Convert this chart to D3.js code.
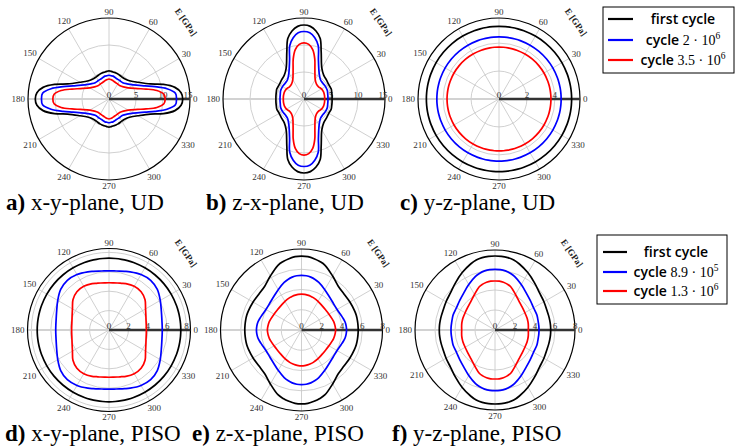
<!DOCTYPE html>
<html>
<head>
<meta charset="utf-8">
<script src="https://cdn.jsdelivr.net/npm/d3@7/dist/d3.min.js"></script>
<style>
body { margin: 0; background: #fff; }
text { font-family: "Liberation Serif", serif; }
</style>
</head>
<body>
<div id="chart"></div>
<script>
// E modulus [GPa] for one quadrant (0..90 deg);
// every plot is mirror-symmetric about both axes, so the rest is reflected
var angles = [0, 5, 10, 15, 20, 30, 40, 50, 60, 70, 75, 80, 85, 90];

// a) x-y-plane, UD
var aFirst = [13.65, 13.4, 12.4, 10.45, 8.15, 6.2, 5.2, 4.78, 4.73, 4.9, 4.98, 5.04, 5.13, 5.2];
var aMid   = [12.5, 12.35, 10.9, 8.8, 7.1, 5.24, 4.37, 3.95, 3.94, 4.04, 4.16, 4.3, 4.33, 4.4];
var aLast  = [10.4, 10.2, 9.0, 7.1, 5.63, 4.1, 3.48, 3.2, 3.2, 3.3, 3.4, 3.52, 3.63, 3.7];
// b) z-x-plane, UD
var bFirst = [5.2, 5.22, 5.25, 5.3, 5.37, 5.3, 5.45, 5.7, 6.6, 9.3, 11.6, 12.8, 13.5, 13.7];
var bMid   = [4.44, 4.45, 4.47, 4.53, 4.6, 4.6, 4.55, 4.72, 5.6, 7.8, 10.2, 11.5, 12.3, 12.5];
var bLast  = [3.83, 3.84, 3.85, 3.85, 3.85, 3.74, 3.52, 3.6, 4.15, 5.9, 7.7, 9.3, 10.15, 10.4];
// c) y-z-plane, UD
var cFirst = [5.2, 5.2, 5.2, 5.2, 5.2, 5.2, 5.2, 5.2, 5.2, 5.2, 5.2, 5.2, 5.2, 5.2];
var cMid   = [4.45, 4.45, 4.45, 4.45, 4.45, 4.45, 4.45, 4.45, 4.45, 4.45, 4.45, 4.45, 4.45, 4.45];
var cLast  = [3.72, 3.72, 3.72, 3.72, 3.72, 3.72, 3.72, 3.72, 3.72, 3.72, 3.72, 3.72, 3.72, 3.72];
// d) x-y-plane, PISO
var dFirst = [7.4, 7.4, 7.4, 7.4, 7.4, 7.4, 7.4, 7.4, 7.4, 7.4, 7.4, 7.4, 7.4, 7.4];
var dMid   = [5.49, 5.5, 5.54, 5.62, 5.74, 6.1, 6.5, 6.68, 6.6, 6.38, 6.26, 6.17, 6.11, 6.1];
var dLast  = [3.85, 3.86, 3.89, 3.95, 4.05, 4.35, 4.85, 5.15, 5.2, 5.08, 4.98, 4.92, 4.88, 4.87];
// e) z-x-plane, PISO
var eFirst = [5.6, 5.6, 5.6, 5.6, 5.57, 5.52, 5.5, 5.65, 6.15, 6.8, 7.0, 7.15, 7.27, 7.3];
var eMid   = [4.45, 4.43, 4.38, 4.28, 4.18, 4.06, 4.1, 4.28, 4.6, 5.0, 5.17, 5.3, 5.38, 5.4];
var eLast  = [3.37, 3.35, 3.32, 3.28, 3.22, 3.13, 3.1, 3.15, 3.27, 3.4, 3.46, 3.5, 3.54, 3.55];
// f) y-z-plane, PISO
var fFirst = [5.57, 5.57, 5.56, 5.55, 5.55, 5.65, 5.8, 6.15, 6.6, 7.05, 7.25, 7.35, 7.4, 7.4];
var fMid   = [4.4, 4.4, 4.4, 4.42, 4.45, 4.45, 4.6, 4.85, 5.25, 5.7, 5.88, 6.0, 6.06, 6.07];
var fLast  = [3.33, 3.35, 3.38, 3.4, 3.42, 3.45, 3.55, 3.75, 4.1, 4.6, 4.75, 4.85, 4.9, 4.9];

// radial ticks
var udTicks = [0, 5, 10, 15];
var cTicks = [0, 2, 4];
var pisoTicks = [0, 2, 4, 6, 8];
var angleTicks = [0, 30, 60, 90, 120, 150, 180, 210, 240, 270, 300, 330];

var captionTags = ["a)", "b)", "c)", "d)", "e)", "f)"];
var captionTexts = [" x-y-plane, UD", " z-x-plane, UD", " y-z-plane, UD",
                    " x-y-plane, PISO", " z-x-plane, PISO", " y-z-plane, PISO"];

// legends: label, mantissa, exponent
var udLegend = [["first cycle", null, null], ["cycle ", "2", "6"], ["cycle ", "3.5", "6"]];
var pisoLegend = [["first cycle", null, null], ["cycle ", "8.9", "5"], ["cycle ", "1.3", "6"]];

var colors = ["#000000", "#0000ff", "#ff0000"];
var serif = "'Liberation Serif', 'DejaVu Serif', serif";
var sans = "'Open Sans', 'DejaVu Sans', sans-serif";

var W = 737, H = 448;
var svg = d3.select("#chart").append("svg")
    .attr("width", W)
    .attr("height", H);

var panels = [
    {cx: 109, cy: 99, R: 81, max: 15, ticks: udTicks, series: [aFirst, aMid, aLast]},
    {cx: 304, cy: 99, R: 81, max: 15, ticks: udTicks, series: [bFirst, bMid, bLast]},
    {cx: 499, cy: 99, R: 81, max: 5.8, ticks: cTicks, series: [cFirst, cMid, cLast]},
    {cx: 109, cy: 330, R: 81.5, max: 8.4, ticks: pisoTicks, series: [dFirst, dMid, dLast]},
    {cx: 301.5, cy: 330, R: 81, max: 8, ticks: pisoTicks, series: [eFirst, eMid, eLast]},
    {cx: 495, cy: 330, R: 80, max: 8, ticks: pisoTicks, series: [fFirst, fMid, fLast]}
];

var captionPos = [[6, 210], [206, 210], [400, 210], [5, 441], [192, 441], [392, 441]];

function mirrorLoop(vals) {
    var pts = [], i, n = angles.length;
    for (i = 0; i < n; i++) pts.push([angles[i], vals[i]]);
    for (i = n - 2; i >= 0; i--) pts.push([180 - angles[i], vals[i]]);
    for (i = 1; i < n; i++) pts.push([180 + angles[i], vals[i]]);
    for (i = n - 2; i > 0; i--) pts.push([360 - angles[i], vals[i]]);
    return pts;
}

function rad(deg) { return deg * Math.PI / 180; }

function drawPanel(p) {
    var g = svg.append("g")
        .attr("transform", "translate(" + p.cx + "," + p.cy + ")");
    var r = d3.scaleLinear().domain([0, p.max]).range([0, p.R]);

    // grid circles
    g.selectAll("circle.grid")
        .data(p.ticks.filter(function(t) { return t > 0 && t < p.max - 1e-6; }))
        .enter().append("circle")
        .attr("class", "grid")
        .attr("r", function(t) { return r(t); })
        .attr("fill", "none")
        .attr("stroke", "#c4c4c4")
        .attr("stroke-width", 0.8);

    // spokes
    g.selectAll("line.spoke")
        .data(angleTicks)
        .enter().append("line")
        .attr("class", "spoke")
        .attr("x1", 0).attr("y1", 0)
        .attr("x2", function(a) { return p.R * Math.cos(rad(a)); })
        .attr("y2", function(a) { return -p.R * Math.sin(rad(a)); })
        .attr("stroke", function(a) { return a == 180 ? "#d2d2d2" : "#c4c4c4"; })
        .attr("stroke-width", function(a) { return a == 180 ? 2.2 : 0.8; });

    // outer circle
    g.append("circle")
        .attr("r", p.R)
        .attr("fill", "none")
        .attr("stroke", "#000")
        .attr("stroke-width", 1.2);

    // radial axis
    g.append("line")
        .attr("x1", 0).attr("y1", 0)
        .attr("x2", p.R).attr("y2", 0)
        .attr("stroke", "#333")
        .attr("stroke-width", 2.5);

    // radial tick labels (the one on the rim is pulled in so it clears the "0")
    g.selectAll("text.rtick")
        .data(p.ticks)
        .enter().append("text")
        .attr("class", "rtick")
        .attr("x", function(t) { return t >= p.max - 1e-6 ? r(t) + 2.5 : r(t); })
        .attr("y", -1.5)
        .attr("text-anchor", function(t) { return t >= p.max - 1e-6 ? "end" : "middle"; })
        .attr("font-family", serif)
        .attr("font-size", 9)
        .attr("fill", "#333")
        .text(function(t) { return t; });

    // curves
    var line = d3.lineRadial()
        .angle(function(d) { return rad(90 - d[0]); })
        .radius(function(d) { return r(d[1]); })
        .curve(d3.curveCatmullRomClosed.alpha(0.5));

    g.selectAll("path.curve")
        .data(p.series)
        .enter().append("path")
        .attr("class", "curve")
        .attr("d", function(s) { return line(mirrorLoop(s)); })
        .attr("fill", "none")
        .attr("stroke", function(s, i) { return colors[i]; })
        .attr("stroke-width", 1.7);

    // angle labels
    var fs = 9;
    g.selectAll("text.atick")
        .data(angleTicks)
        .enter().append("text")
        .attr("class", "atick")
        .attr("font-family", serif)
        .attr("font-size", fs)
        .attr("fill", "#333")
        .attr("text-anchor", "middle")
        .attr("dy", "0.33em")
        .attr("transform", function(a) {
            var c = Math.cos(rad(a)), s = Math.sin(rad(a));
            var hw = String(a).length * 0.25 * fs, hh = 0.32 * fs;
            var d = p.R + 3 + hw * Math.abs(c) + hh * Math.abs(s);
            return "translate(" + (d * c) + "," + (-d * s) + ")";
        })
        .text(function(a) { return a; });

    // axis title
    g.append("text")
        .attr("transform", "translate(77,-77) rotate(55)")
        .attr("text-anchor", "middle")
        .attr("dy", "0.35em")
        .attr("font-family", "'DejaVu Sans', sans-serif")
        .attr("font-size", 9)
        .attr("font-weight", "bold")
        .attr("fill", "#222")
        .text("E [GPa]");
}

panels.forEach(drawPanel);

// captions
captionTags.forEach(function(tag, i) {
    var t = svg.append("text")
        .attr("x", captionPos[i][0])
        .attr("y", captionPos[i][1])
        .attr("font-family", serif)
        .attr("font-size", 23)
        .attr("fill", "#000");
    t.append("tspan").attr("font-weight", "bold").text(tag);
    t.append("tspan").text(captionTexts[i]);
});

function drawLegend(items, x0, y0, x1, y1, lineX0, lineX1, textX, rows) {
    svg.append("rect")
        .attr("x", x0).attr("y", y0)
        .attr("width", x1 - x0).attr("height", y1 - y0)
        .attr("fill", "#fff")
        .attr("stroke", "#000")
        .attr("stroke-width", 1);

    items.forEach(function(it, i) {
        svg.append("line")
            .attr("x1", lineX0).attr("x2", lineX1)
            .attr("y1", rows[i]).attr("y2", rows[i])
            .attr("stroke", colors[i])
            .attr("stroke-width", 2.2);
        var t = svg.append("text")
            .attr("x", textX)
            .attr("y", rows[i])
            .attr("dy", "0.35em")
            .attr("text-anchor", "middle")
            .attr("font-size", 14)
            .attr("fill", "#000");
        t.append("tspan")
            .attr("font-family", sans)
            .attr("font-weight", 600)
            .text(it[0]);
        if (it[1]) {
            t.append("tspan").attr("font-family", serif).text(it[1] + " \u00b7 10");
            t.append("tspan")
                .attr("font-family", serif)
                .attr("font-size", 9.5)
                .attr("dy", "-0.6em")
                .text(it[2]);
        }
    });
}

drawLegend(udLegend, 603, 7, 734, 73, 608, 633, 683, [19, 40, 60]);
drawLegend(pisoLegend, 597, 235, 727, 304, 603, 627, 676, [252, 272, 291]);
</script>
</body>
</html>
